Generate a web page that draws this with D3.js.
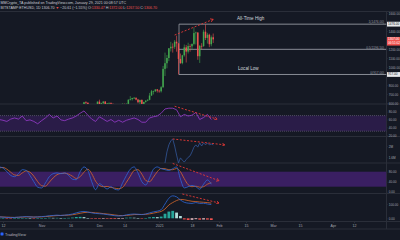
<!DOCTYPE html>
<html><head><meta charset="utf-8">
<script src="https://cdn.jsdelivr.net/npm/d3@7"></script>
<style>html,body{margin:0;padding:0;background:#151924;overflow:hidden}</style>
</head><body>
<script>
// ---------- DATA ----------
const candleStart = "2020-11-18"; // daily candles
const candleOpen  = [480,472,471,510,549,559,608,603,570,518,517,538,575,
  615,588,598,616,570,596,601,591,555,573,560,545,568,590,587,590,636,643,655,658,638,609,634,584,612,627,635,683,730,731,751,
  737,730,775,979,1042,1100,1208,1225,1224,1281,1262,1090,1043,1130,1218,1171,1233,1230,1257,1377,1383,1120,1235,1232,1392,1323,1359,1253,1330];
const candleHigh  = [500,482,512,560,568,613,620,606,575,530,545,578,617,
  637,603,621,622,598,605,605,592,577,575,562,570,595,592,595,640,676,658,667,661,646,637,640,614,630,642,712,745,737,752,755,
  748,788,1012,1160,1134,1210,1280,1263,1300,1348,1265,1150,1135,1250,1245,1270,1253,1260,1440,1393,1385,1245,1265,1415,1476,1380,1370,1350,1372];
const candleLow   = [460,462,468,507,520,551,580,558,480,495,505,533,570,
  555,574,588,563,563,585,585,551,530,553,532,542,562,578,580,585,628,627,645,630,597,584,567,569,604,620,630,680,695,722,716,
  714,716,769,900,985,1065,1172,1160,1202,1170,917,1035,1030,1115,1050,1150,1170,1187,1240,1250,1080,1045,1195,1225,1300,1260,1220,1230,1267];
const candleClose = [472,471,510,549,559,608,603,570,518,517,538,575,615,
  588,598,616,570,596,601,591,555,573,560,545,568,590,587,590,636,643,655,658,638,609,634,584,612,627,635,683,730,731,751,737,
  730,775,979,1042,1100,1208,1225,1224,1281,1262,1090,1043,1130,1218,1171,1233,1230,1257,1377,1383,1120,1235,1232,1392,1323,1359,1253,1330,1307];

// oscillators: one value every 2 days from this date
const oscStart = "2020-10-10";
const rsiValues = [60,58,55,61,64,61,69,57,59,55,49,57,64,73,64,69,59,57,61,64,69,76,82,71,61,55,67,61,55,60,53,58,53,58,61,64,60,53,53,64,67,69,76,87,89,89,85,67,73,69,71,78,60,65,73,60];
const stochK = [99,95,80,65,60,72,88,85,65,40,18,15,35,60,72,75,72,75,65,50,48,80,99,85,40,8,32,22,11,20,10,7,35,65,90,99,75,40,27,55,90,99,92,88,85,92,99,50,15,20,25,20,10,30,47,30];
const stochD = [95,97,90,78,67,65,75,83,78,62,40,24,22,38,55,68,73,74,70,62,53,60,78,90,72,42,25,20,21,17,14,12,17,38,62,85,88,70,45,40,58,80,93,92,88,88,93,80,52,28,20,22,18,20,30,36];
const macdLine   = [10,8,6,5,6,8,10,12,10,8,10,12,14,18,20,22,20,22,25,30,38,45,48,44,38,34,32,30,26,22,18,16,18,24,28,30,28,26,30,38,45,50,60,100,140,157,150,128,112,106,104,110,104,105,100,96];
const signalLine = [10,9,8,7,6,7,8,10,10,9,9,10,12,14,17,19,20,21,22,25,29,35,40,42,41,38,36,33,30,27,23,20,19,20,23,26,27,27,28,31,36,42,48,65,93,110,124,132,130,124,119,117,114,112,110,106];
const macdHist   = [0,1,-2,-2,0,1,2,2,0,-1,1,2,2,4,3,3,0,1,3,5,9,10,8,2,-3,-4,-4,-3,-4,-5,-5,-4,-1,4,5,4,1,-1,2,7,9,8,12,32,47,52,40,16,-8,-12,-10,-6,-10,-8,-9,-12];

// volume-type indicator (millions), daily from this date
const p3Start = "2021-01-03";
const p3Values = [1.30,1.40,1.79,2.04,2.18,2.25,2.00,1.68,1.40,1.58,1.50,1.43,1.52,1.60,1.65,1.79,1.96,2.04,1.96,2.11,2.00,2.11,2.04,2.11,2.04,2.07,2.04];

// levels
const fibLevels = [1476, 1196.5, 917];
const fibNames  = ["1(1476.00)", "0.5(1196.50)", "0(917.00)"];
const lastPrice = 1307;

// axes
const priceTicks = [600,700,800,1000,1100,1200,1400,1600];
const rsiTicks = [20,40,60,80];
const p3Ticks = [1.6, 2.0];
const stochTicks = [0,40,80];
const macdTicks = [0,100];
const timeTickDates  = ["2020-10-12","2020-11-01","2020-11-16","2020-12-01","2020-12-14","2021-01-01","2021-01-18","2021-02-01","2021-02-15","2021-03-01","2021-03-15","2021-04-01","2021-04-12"];
const timeTickLabels = ["12","Nov","16","Dec","14","2021","18","Feb","15","Mar","15","Apr","12"];

// ---------- DRAW ----------
const W = 400, H = 240, AX = 386.5;
const BG = "#151924", SEP = "#2a2e39", TXT = "#a3a6af";
const FONT = "'Liberation Sans', Arial, sans-serif";
const parse = d3.utcParse("%Y-%m-%d");
const svg = d3.select("body").append("svg").attr("width", W).attr("height", H).style("font-family", FONT);
svg.append("rect").attr("width", W).attr("height", H).attr("fill", BG);
const defs = svg.append("defs");
defs.append("marker").attr("id","arr").attr("viewBox","0 0 6 6").attr("refX",5).attr("refY",3)
  .attr("markerWidth",4).attr("markerHeight",4).attr("orient","auto")
  .append("path").attr("d","M0,0 L5,3 L0,6").attr("fill","none").attr("stroke","#e53935").attr("stroke-width",1.2);

const x = d3.scaleUtc().domain([Date.UTC(2020,9,12), Date.UTC(2021,3,12)]).range([3, 354]);

const panes = {
  main:  [11.5, 104],
  rsi:   [104, 136.5],
  p3:    [136.5, 163],
  stoch: [163, 193.5],
  macd:  [193.5, 221.5]
};
Object.entries(panes).forEach(([k,[a,b]]) => {
  defs.append("clipPath").attr("id","clip-"+k).append("rect").attr("x",0).attr("y",a).attr("width",AX).attr("height",b-a);
});
const g = k => svg.append("g").attr("clip-path","url(#clip-"+k+")");

const yPrice = d3.scaleLinear().domain([600,1000]).range([103,67]);
const yRsi   = d3.scaleLinear().domain([40,80]).range([127.3,111.7]);
const yP3    = d3.scaleLinear().domain([1.6,2.0]).range([157.3,146]);
const yStoch = d3.scaleLinear().domain([0,80]).range([191.7,171.7]);
const yMacd  = d3.scaleLinear().domain([0,100]).range([218.3,204]);

const cDate = i => d3.utcDay.offset(parse(candleStart), i);
const oDate = i => d3.utcDay.offset(parse(oscStart), 2*i);
const pDate = i => d3.utcDay.offset(parse(p3Start), i);

// separators
[11.5, 104, 136.5, 163, 193.5, 221.5, 229].forEach(yy =>
  svg.append("line").attr("x1",0).attr("x2",W).attr("y1",yy).attr("y2",yy).attr("stroke",SEP).attr("stroke-width",1));
svg.append("line").attr("x1",AX).attr("x2",AX).attr("y1",11.5).attr("y2",229).attr("stroke",SEP);

// header
const hdr = svg.append("g").attr("font-size",3.6).attr("fill","#c9ccd4");
hdr.append("text").attr("x",0.5).attr("y",4.2).text("MMCrypto_TA published on TradingView.com, January 29, 2021 00:08:57 UTC");
const h2 = hdr.append("text").attr("x",0.5).attr("y",9.2);
h2.append("tspan").text("BITSTAMP:ETHUSD, 1D  1306.70 ");
h2.append("tspan").attr("fill","#ef5350").text("▼");
h2.append("tspan").text(" −20.61 (−1.55%)  O:");
h2.append("tspan").attr("fill","#ef5350").text("1330.47");
h2.append("tspan").text(" H:");
h2.append("tspan").attr("fill","#ef5350").text("1372.00");
h2.append("tspan").text(" L:");
h2.append("tspan").attr("fill","#ef5350").text("1267.50");
h2.append("tspan").text(" C:");
h2.append("tspan").attr("fill","#ef5350").text("1306.70");

// ---- main pane ----
const gm = g("main");
const fx0 = 179;
gm.append("line").attr("x1",fx0).attr("x2",fx0).attr("y1",yPrice(fibLevels[0])).attr("y2",yPrice(fibLevels[2]))
  .attr("stroke","#9598a1").attr("stroke-width",0.8);
fibLevels.forEach((v,i) => {
  gm.append("line").attr("x1",fx0).attr("x2",AX).attr("y1",yPrice(v)).attr("y2",yPrice(v))
    .attr("stroke","#9598a1").attr("stroke-width",0.9);
  gm.append("text").attr("x",384).attr("y",yPrice(v)-0.8).attr("text-anchor","end")
    .attr("font-size",3.2).attr("fill","#9598a1").text(fibNames[i]);
});
gm.append("text").attr("x",237).attr("y",19.5).attr("font-size",4.6).attr("fill","#d1d4dc").text("All-Time High");
gm.append("text").attr("x",238).attr("y",70).attr("font-size",4.6).attr("fill","#d1d4dc").text("Local Low");

// candles
const idx = d3.range(candleOpen.length);
const bw = 1.5;
const cc = i => candleClose[i] >= candleOpen[i] ? "#43a84f" : "#ef5350";
gm.selectAll(".wick").data(idx).join("line")
  .attr("x1", i => x(cDate(i))).attr("x2", i => x(cDate(i)))
  .attr("y1", i => yPrice(candleHigh[i])).attr("y2", i => yPrice(candleLow[i]))
  .attr("stroke", cc).attr("stroke-width",0.6);
gm.selectAll(".body").data(idx).join("rect")
  .attr("x", i => x(cDate(i)) - bw/2).attr("width", bw)
  .attr("y", i => yPrice(Math.max(candleOpen[i], candleClose[i])))
  .attr("height", i => Math.max(0.7, Math.abs(yPrice(candleOpen[i]) - yPrice(candleClose[i]))))
  .attr("fill", cc);

const dash = (sel, d1, v1, d2, v2, ys) => sel.append("line")
  .attr("x1", x(parse(d1))).attr("y1", ys(v1)).attr("x2", x(parse(d2))).attr("y2", ys(v2))
  .attr("stroke","#e53935").attr("stroke-width",0.9).attr("stroke-dasharray","2,1.6").attr("marker-end","url(#arr)");
dash(svg, "2021-01-09", 1355, "2021-01-29", 1530, yPrice);

// ---- RSI ----
const gr = g("rsi");
gr.append("rect").attr("x",0).attr("width",AX).attr("y",yRsi(70)).attr("height",yRsi(30)-yRsi(70)).attr("fill","#2a1c48");
[70,30].forEach(v => gr.append("line").attr("x1",0).attr("x2",AX).attr("y1",yRsi(v)).attr("y2",yRsi(v))
  .attr("stroke","#6e6a80").attr("stroke-width",0.6).attr("stroke-dasharray","1,1"));
gr.append("path").datum(rsiValues).attr("fill","none").attr("stroke","#9a3ccf").attr("stroke-width",0.8)
  .attr("d", d3.line().x((d,i)=>x(oDate(i))).y(d=>yRsi(d)));
dash(svg, "2021-01-09", 94, "2021-01-31", 61, yRsi);

// ---- p3 ----
const gp = g("p3");
gp.append("path").datum(p3Values).attr("fill","none").attr("stroke","#33589a").attr("stroke-width",0.8)
  .attr("d", d3.line().x((d,i)=>x(pDate(i))).y(d=>yP3(d)));
dash(svg, "2021-01-08", 2.25, "2021-02-04", 2.04, yP3);

// ---- Stoch ----
const gs = g("stoch");
gs.append("rect").attr("x",0).attr("width",AX).attr("y",yStoch(80)).attr("height",yStoch(20)-yStoch(80)).attr("fill","#3a1f62");
const sl = d3.line().curve(d3.curveMonotoneX).x((d,i)=>x(oDate(i))).y(d=>yStoch(d));
gs.append("path").datum(stochD).attr("fill","none").attr("stroke","#d9692c").attr("stroke-width",0.8).attr("d", sl);
gs.append("path").datum(stochK).attr("fill","none").attr("stroke","#2f68d8").attr("stroke-width",0.8).attr("d", sl);
dash(svg, "2021-01-08", 113, "2021-02-01", 44, yStoch);

// ---- MACD ----
const gc = g("macd");
gc.selectAll(".h").data(macdHist).join("rect")
  .attr("x",(d,i)=>x(oDate(i))-1.4).attr("width",2.8)
  .attr("y", d => yMacd(Math.max(0,d))).attr("height", d => Math.max(0.5, Math.abs(yMacd(d)-yMacd(0))))
  .attr("fill", (d,i) => {
    const p = i>0 ? macdHist[i-1] : d;
    if (d >= 0) return d >= p ? "#26a69a" : "#b2dfdb";
    return d <= p ? "#ef5350" : "#ffcdd2";
  });
const ml = d3.line().curve(d3.curveMonotoneX).x((d,i)=>x(oDate(i))).y(d=>yMacd(d));
gc.append("path").datum(signalLine).attr("fill","none").attr("stroke","#d9692c").attr("stroke-width",0.8).attr("d", ml);
gc.append("path").datum(macdLine).attr("fill","none").attr("stroke","#2f68d8").attr("stroke-width",0.8).attr("d", ml);
dash(svg, "2021-01-13", 170, "2021-02-01", 107, yMacd);

// ---- right axes ----
const axisText = (scale, ticks, fmt) => {
  const a = svg.append("g").attr("transform",`translate(${AX},0)`)
    .call(d3.axisRight(scale).tickValues(ticks).tickSize(1).tickPadding(1.2).tickFormat(fmt));
  a.select(".domain").remove();
  a.selectAll("line").attr("stroke",SEP);
  a.selectAll("text").attr("font-size",3.1).attr("fill",TXT).attr("font-family",FONT);
};
axisText(yPrice, priceTicks, d=>d.toFixed(2));
axisText(yRsi, rsiTicks, d=>d.toFixed(2));
axisText(yP3, p3Ticks, d=>d+"M");
axisText(yStoch, stochTicks, d=>d.toFixed(2));
axisText(yMacd, macdTicks, d=>d.toFixed(2));

// price boxes
const box = (v, fill, txtFill, lines) => {
  const y0 = yPrice(v);
  const h = lines.length*3.8 + 1;
  svg.append("rect").attr("x",AX+0.5).attr("y",y0-2.4).attr("width",W-AX).attr("height",h).attr("fill",fill);
  lines.forEach((t,k) => svg.append("text").attr("x",AX+1.5).attr("y",y0+0.9+k*3.8).attr("font-size",3.1).attr("fill",txtFill).text(t));
};
box(fibLevels[0], "#e8e9ec", "#131722", ["1476.00"]);
box(fibLevels[2], "#e8e9ec", "#131722", ["917.00"]);
box(lastPrice, "#ef5350", "#ffffff", ["1307.00","06:51:02"]);

// ---- time axis ----
const ta = svg.append("g").attr("transform","translate(0,221.5)")
  .call(d3.axisBottom(x).tickValues(timeTickDates.map(parse)).tickSize(1.5).tickPadding(1.5)
    .tickFormat((d,i)=>timeTickLabels[i]));
ta.select(".domain").remove();
ta.selectAll("line").attr("stroke",SEP);
ta.selectAll("text").attr("font-size",3.6).attr("fill",TXT).attr("font-family",FONT);

// logo
svg.append("rect").attr("x",0.5).attr("y",232.5).attr("width",3).attr("height",3).attr("rx",0.4).attr("fill","#2962ff");
svg.append("text").attr("x",5).attr("y",235.5).attr("font-size",3.8).attr("fill","#b2b5be").text("TradingView");
</script>
</body></html>
